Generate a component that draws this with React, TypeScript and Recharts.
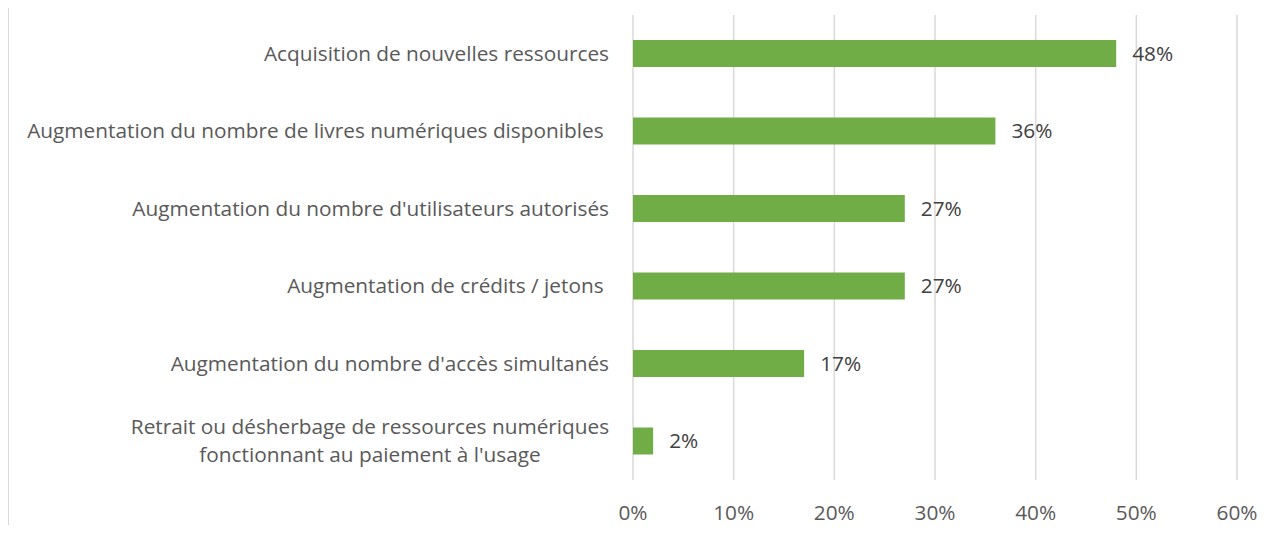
import React from 'react';
import { BarChart, Bar, XAxis, YAxis, CartesianGrid, LabelList } from 'recharts';

const categories = [
  'Acquisition de nouvelles ressources',
  'Augmentation du nombre de livres numériques disponibles ',
  "Augmentation du nombre d'utilisateurs autorisés",
  'Augmentation de crédits / jetons ',
  "Augmentation du nombre d'accès simultanés",
  "Retrait ou désherbage de ressources numériques\nfonctionnant au paiement à l'usage",
];
const values = [48, 36, 27, 27, 17, 2];
const xTicks = [0, 10, 20, 30, 40, 50, 60];

const data = categories.map((name, i) => ({ name, value: values[i] }));

const FONT = '"Open Sans", sans-serif';
const FS = 20.8;

const CategoryTick = (props: any) => {
  const { x, y, payload } = props;
  const lines: string[] = String(payload.value).split('\n');
  const lh = 28;
  const start = -((lines.length - 1) * lh) / 2;
  // wrapped labels are centred on their block, like the original
  const multi = lines.length > 1;
  const tx = multi ? x - 255 : x - 16;
  return (
    <text
      x={tx}
      y={y}
      textAnchor={multi ? 'middle' : 'end'}
      fill="#595959"
      fontSize={FS}
      fontFamily={FONT}
      xmlSpace="preserve"
    >
      {lines.map((l, i) => (
        <tspan key={i} x={tx} dy={i === 0 ? start + 7 : lh}>
          {l}
        </tspan>
      ))}
    </text>
  );
};

const App: React.FC = () => {
  return (
    <div style={{ margin: -8, width: 1271, height: 533, position: 'relative', background: '#fff' }}>
      <div style={{ position: 'absolute', left: 8, top: 0, width: 1, height: 533, background: '#d9d9d9' }} />
      <BarChart
        width={1271}
        height={533}
        data={data}
        layout="vertical"
        margin={{ top: 15, right: 34, left: 0, bottom: 0 }}
        barCategoryGap={0}
      >
        <CartesianGrid horizontal={false} stroke="#d9d9d9" strokeWidth={1.5} />
        <XAxis
          type="number"
          domain={[0, 60]}
          ticks={xTicks}
          tickFormatter={(v) => `${v}%`}
          axisLine={false}
          tickLine={false}
          height={53}
          tick={{ fill: '#595959', fontSize: FS, fontFamily: FONT, dy: 17 }}
        />
        <YAxis
          type="category"
          dataKey="name"
          width={633}
          axisLine={false}
          tickLine={false}
          tick={<CategoryTick />}
        />
        <Bar dataKey="value" fill="#70ad47" barSize={27} isAnimationActive={false}>
          <LabelList
            dataKey="value"
            position="right"
            offset={16}
            formatter={(v: any) => `${v}%`}
            style={{ fill: '#404040', fontSize: FS, fontFamily: FONT }}
          />
        </Bar>
      </BarChart>
    </div>
  );
};

export default App;
